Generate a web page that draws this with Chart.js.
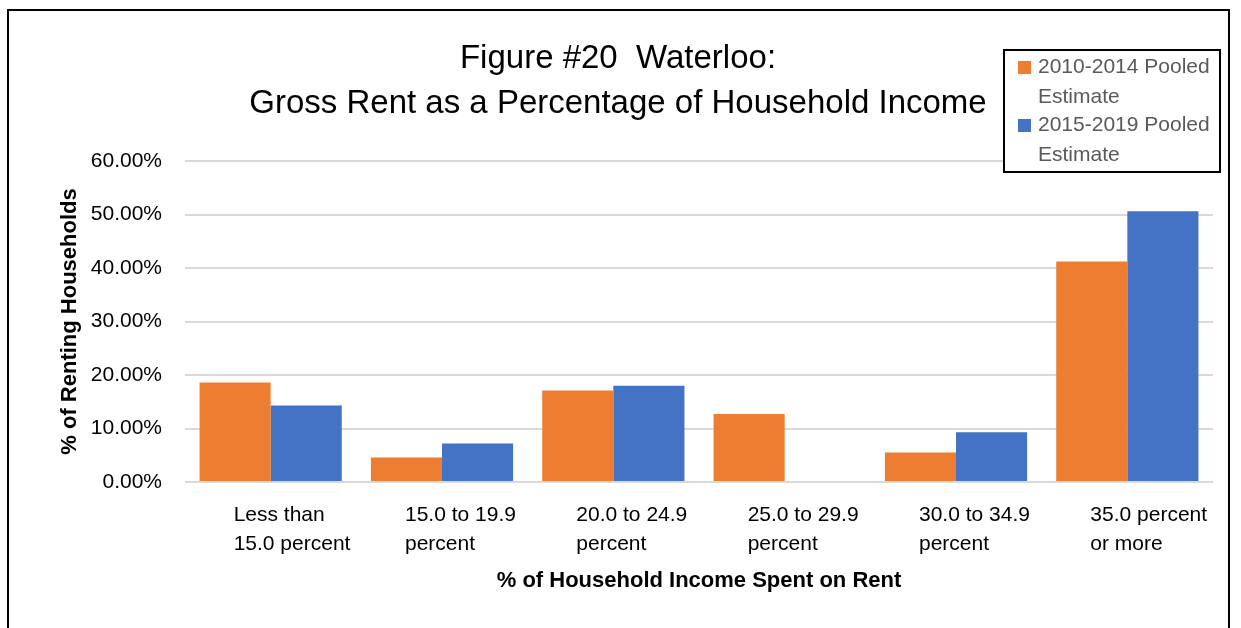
<!DOCTYPE html>
<html>
<head>
<meta charset="utf-8">
<title>Figure #20 Waterloo</title>
<script src="https://cdn.jsdelivr.net/npm/chart.js@4.4.1/dist/chart.umd.min.js"></script>
<style>
  html, body { margin: 0; padding: 0; background: #fff; }
  #wrap { position: relative; width: 1241px; height: 628px; }
</style>
</head>
<body>
<div id="wrap"><canvas id="bar-chart" width="1241" height="628"></canvas></div>
<script>
const categories = [
  ["Less than", "15.0 percent"],
  ["15.0 to 19.9", "percent"],
  ["20.0 to 24.9", "percent"],
  ["25.0 to 29.9", "percent"],
  ["30.0 to 34.9", "percent"],
  ["35.0 percent", "or more"],
];
const seriesNames = ["2010-2014 Pooled Estimate", "2015-2019 Pooled Estimate"];
const pooled2010 = [18.6, 4.6, 17.1, 12.7, 5.5, 41.2];
const pooled2015 = [14.3, 7.2, 18.0, 0, 9.3, 50.6];
const yTicks = [0, 10, 20, 30, 40, 50, 60];

const FONT = '"Liberation Sans", Arial, sans-serif';

// legend box + outer frame, drawn on top
const boxLegend = {
  id: "boxLegend",
  afterDraw(chart) {
    const ctx = chart.ctx;
    ctx.save();
    ctx.fillStyle = "#fff";
    ctx.fillRect(1004, 50, 216, 122);
    ctx.lineWidth = 2;
    ctx.strokeStyle = "#000";
    ctx.strokeRect(1004, 50, 216, 122);
    ctx.font = "21px " + FONT;
    ctx.textBaseline = "alphabetic";
    ctx.textAlign = "left";
    chart.data.datasets.forEach((ds, i) => {
      const top = 61 + i * 58;
      ctx.fillStyle = ds.backgroundColor;
      ctx.fillRect(1018, top, 13, 13);
      const cut = ds.label.lastIndexOf(" ");
      ctx.fillStyle = "#595959";
      ctx.fillText(ds.label.slice(0, cut), 1038, top + 12);
      ctx.fillText(ds.label.slice(cut + 1), 1038, top + 42);
    });
    ctx.strokeRect(8, 10, 1221, 700);
    ctx.restore();
  },
};

const data = {
  labels: categories,
  datasets: [
    { label: seriesNames[0], data: pooled2010, backgroundColor: "#ED7D31" },
    { label: seriesNames[1], data: pooled2015, backgroundColor: "#4472C4" },
  ],
};

const config = {
  type: "bar",
  data: data,
  plugins: [boxLegend],
  options: {
    responsive: false,
    animation: false,
    devicePixelRatio: 1,
    layout: { padding: { left: 23, right: 28, top: 0, bottom: 0 } },
    datasets: { bar: { categoryPercentage: 0.83, barPercentage: 1.0 } },
    plugins: {
      legend: { display: false },
      tooltip: { enabled: false },
      title: {
        display: true,
        text: ["Figure #20  Waterloo:", "Gross Rent as a Percentage of Household Income"],
        color: "#000",
        font: { family: FONT, size: 33, weight: "normal", lineHeight: 45 / 33 },
        padding: { top: 36, bottom: 35 },
      },
    },
    scales: {
      x: {
        grid: { display: false },
        border: { display: false },
        ticks: {
          autoSkip: false,
          maxRotation: 0,
          minRotation: 0,
          align: "start",
          labelOffset: -37,
          padding: 11,
          color: "#000",
          font: { family: FONT, size: 21, lineHeight: 29 / 21 },
        },
        title: {
          display: true,
          text: "% of Household Income Spent on Rent",
          color: "#000",
          font: { family: FONT, size: 22, weight: "bold", lineHeight: 1.2 },
          padding: { top: 0, bottom: 34 },
        },
        afterFit(scale) {
          scale.height = 146;
          scale.paddingLeft = 0;
          scale.paddingRight = 0;
        },
      },
      y: {
        min: 0,
        max: 60,
        afterBuildTicks(scale) {
          scale.ticks = yTicks.map((v) => ({ value: v }));
        },
        grid: { color: "#d9d9d9", lineWidth: 2, drawTicks: false },
        border: { display: false },
        ticks: {
          padding: 23,
          color: "#000",
          font: { family: FONT, size: 21 },
          callback: (v) => v.toFixed(2) + "%",
        },
        title: {
          display: true,
          text: "% of Renting Households",
          color: "#000",
          font: { family: FONT, size: 22, weight: "bold", lineHeight: 1.2 },
          padding: { top: 34, bottom: 0 },
        },
        afterFit(scale) {
          scale.width = 162;
        },
      },
    },
  },
};

var ctx = document.getElementById("bar-chart").getContext("2d");
window.myBar = new Chart(ctx, config);
</script>
</body>
</html>
